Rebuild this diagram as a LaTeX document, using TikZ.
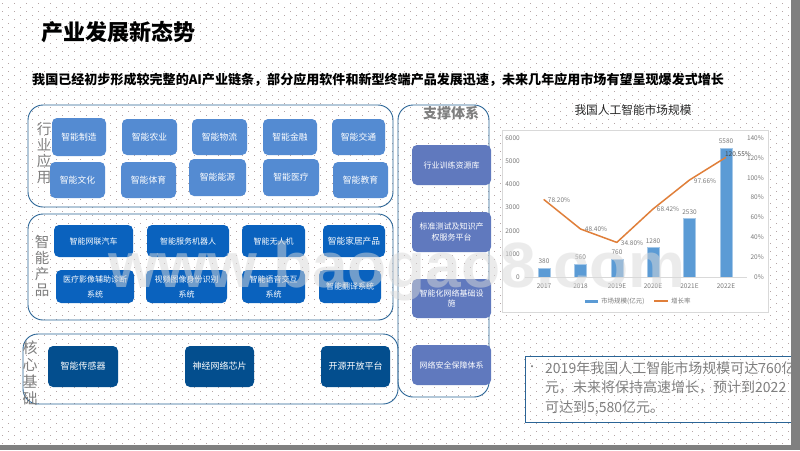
\documentclass[tikz,border=0pt]{standalone}
\usepackage{fontspec}
\setmainfont{Noto Sans CJK SC}
\newfontfamily\wmfont{Liberation Sans}
\newcommand{\fs}[2]{\fontsize{#1}{#2}\selectfont}
\definecolor{dotc}{HTML}{B5A5A5}
\definecolor{band}{HTML}{808080}
\definecolor{frameb}{HTML}{2A6496}
\definecolor{appb}{HTML}{548BD2}
\definecolor{prodb}{HTML}{0A62BE}
\definecolor{coreb}{HTML}{034E8E}
\definecolor{supb}{HTML}{6079BE}
\definecolor{sidetxt}{HTML}{7F7F7F}
\definecolor{barc}{HTML}{5B9BD5}
\definecolor{linec}{HTML}{E07F3A}
\definecolor{axt}{HTML}{7A7A7A}
\tikzset{
  x=1pt,y=-1pt,
  group/.style={draw=frameb,line width=0.9pt,rounded corners=15pt,fill=none},
  card/.style={rounded corners=5pt,text=white,align=center,inner sep=0pt,font=\fs{8.2}{10}},
  appcard/.style={card,fill=appb,font=\fs{8.8}{10}},
  prodcard/.style={card,fill=prodb,font=\fs{8}{15}},
  corecard/.style={card,fill=coreb,font=\fs{9}{11}},
  supcard/.style={card,fill=supb,font=\fs{8}{10.5}},
  side/.style={text=sidetxt,font=\fs{14.5}{16},inner sep=0pt,align=center},
  axis/.style={text=axt,font=\fs{6.5}{7},inner sep=0pt},
  bar/.style={fill=barc,draw=barc!55!white,line width=0.3pt},
  para/.style={text=sidetxt,font=\fs{14}{16},inner sep=0pt,anchor=west},
}
% name, style, x1, y1, x2, y2, text
\newcommand{\cardat}[7]{%
  \pgfmathsetmacro{\cw}{#5-#3}\pgfmathsetmacro{\ch}{#6-#4}%
  \pgfmathsetmacro{\cx}{(#5+#3)/2}\pgfmathsetmacro{\cy}{(#6+#4)/2}%
  \node[#2,minimum width=\cw pt,minimum height=\ch pt] (#1) at (\cx,\cy) {#7};}
\begin{document}
\begin{tikzpicture}
\useasboundingbox (0,0) rectangle (800,450);
\fill[white] (0,0) rectangle (800,450);
% dotted background
\foreach \r in {0,...,55}{
  \pgfmathsetmacro{\ry}{3+8*\r}
  \foreach \c in {0,...,66}{
    \pgfmathsetmacro{\rx}{2+12*\c}
    \fill[dotc] (\rx,\ry) rectangle ++(1,1);
    \fill[dotc] (\rx+6,\ry+4) rectangle ++(1,1);
  }
}
% title
\node[anchor=west,inner sep=0pt,font=\fs{22}{24}\bfseries] (title) at (41,32) {产业发展新态势};
\node[anchor=west,inner sep=0pt,font=\fs{13.05}{14}\bfseries] (sub) at (32,80) {我国已经初步形成较完整的AI产业链条，部分应用软件和新型终端产品发展迅速，未来几年应用市场有望呈现爆发式增长};
% groups
\draw[group] (28,105) rectangle (393,207);
\draw[group] (28,214) rectangle (393,320);
\draw[group] (23,334) rectangle (398,404);
\draw[group] (398,105) rectangle (489,397);
% side labels
\node[side] (hang) at (44,153) {行\\[0pt]业\\应\\用};
\node[side] (zhi) at (42,266) {智\\能\\产\\品};
\node[side,font=\fs{15}{16.8}] (he) at (30,373) {核\\心\\基\\础};
\node[text=sidetxt,font=\fs{14}{16}\bfseries,inner sep=0pt] (zc) at (451,113) {支撑体系};
% application
\cardat{a1}{appcard}{52}{118}{106}{156}{智能制造}
\cardat{a2}{appcard}{122}{119}{177}{155}{智能农业}
\cardat{a3}{appcard}{192}{119}{247}{155}{智能物流}
\cardat{a4}{appcard}{263}{119}{317}{155}{智能金融}
\cardat{a5}{appcard}{332}{119}{385}{155}{智能交通}
\cardat{a6}{appcard}{50}{162}{105}{198}{智能文化}
\cardat{a7}{appcard}{121}{162}{176}{198}{智能体育}
\cardat{a8}{appcard}{189}{159}{246}{196}{智能能源}
\cardat{a9}{appcard}{263}{159}{319}{196}{智能医疗}
\cardat{a10}{appcard}{333}{162}{388}{198}{智能教育}
% products
\cardat{p1}{prodcard}{54}{225}{133}{257}{智能网联汽车}
\cardat{p2}{prodcard}{147}{225}{229}{257}{智能服务机器人}
\cardat{p3}{prodcard}{242}{225}{305}{257}{智能无人机}
\cardat{p4}{prodcard,font=\fs{8.7}{15}}{323}{225}{385}{257}{智能家居产品}
\cardat{p5}{prodcard}{56}{270}{134}{303}{医疗影像辅助诊断\\系统}
\cardat{p6}{prodcard}{146}{270}{227}{303}{视频图像身份识别\\系统}
\cardat{p7}{prodcard}{242}{270}{305}{303}{智能语音交互\\系统}
\cardat{p8}{prodcard}{319}{270}{381}{303}{智能翻译系统}
% core
\cardat{c1}{corecard}{48}{346}{118}{387}{智能传感器}
\cardat{c2}{corecard}{185}{346}{254}{387}{神经网络芯片}
\cardat{c3}{corecard}{321}{346}{390}{387}{开源开放平台}
% support
\cardat{s1}{supcard}{412}{145}{491}{185}{行业训练资源库}
\cardat{s2}{supcard}{412}{212}{491}{252}{标准测试及知识产\\权服务平台}
\cardat{s3}{supcard}{412}{279}{491}{318}{智能化网络基础设\\施}
\cardat{s4}{supcard}{412}{345}{491}{385}{网络安全保障体系}
% chart
\node[inner sep=0pt,font=\fs{11.7}{13},text=black!85] (ct) at (633,110) {我国人工智能市场规模};
\draw[black!15,line width=0.8pt,fill=white] (502,130) rectangle (768,312);
\foreach \v/\y in {0/277,1000/254,2000/231,3000/207.5,4000/184.5,5000/161.5,6000/138.5}
  \node[axis,anchor=east] (yl\v) at (520,\y) {\v};
\foreach \v/\y in {0/277,20/257,40/237.5,60/217.5,80/197.5,100/178,120/158,140/138.5}
  \node[axis,anchor=east] (yr\v) at (764,\y) {\v\%};
\foreach \x/\t/\lab/\ly/\cat in {544/268.2/380/261/2017,580.5/264/560/257/2018,617/259.4/760/252/2019E,653/247.3/1280/241/2020E,689.5/218.4/2530/212/2021E,726/147.7/5580/141/2022E}{
  \fill[bar] (\x-6,\t) rectangle (\x+6,277);
  \node[axis] (v\lab) at (\x,\ly) {\lab};
  \node[axis] (cat\cat) at (\x,286) {\cat};
}
\draw[black!15,line width=0.6pt] (525,277) -- (747,277);
\draw[linec,line width=1.5pt,line join=round]
  (543.7,199.4) -- (580.5,229) -- (616.8,242.4) -- (653,209) -- (689.5,180) -- (726,157.3);
\foreach \n/\x/\y/\t in {a/559/200/78.20,b/596/229/48.40,c/632/243/34.80,d/668/209/68.42,e/705/181/97.66}
  \node[axis] (pct\n) at (\x,\y) {\t\%};
\node[axis,text=black!72] (pctf) at (738,154) {120.55\%};
% legend
\fill[barc] (585,299.5) rectangle (598,302.5);
\node[axis,anchor=west] (lg1) at (601,301) {市场规模(亿元)};
\draw[linec,line width=1.5pt] (654,301) -- (668,301);
\node[axis,anchor=west] (lg2) at (671,301) {增长率};
% text box
\draw[frameb,line width=0.9pt] (525,356) rectangle (800,422);
\node[text=sidetxt,font=\fs{10}{12},inner sep=0pt] (bul) at (532,368) {•};
\node[para] (t1) at (545,368) {2019年我国人工智能市场规模可达760亿};
\node[para] (t2) at (545,387) {元，未来将保持高速增长，预计到2022};
\node[para] (t3) at (545,408) {可达到5,580亿元。};
% frame band
\fill[band] (791,0) rectangle (800,450);
\fill[band] (0,445) rectangle (800,450);
% watermark
\node[anchor=base west,inner sep=0pt,text=black!15,text opacity=0.5,font={\wmfont\fs{64}{70}\bfseries}] (wm) at (108,287) {www.baogao8.com};
\end{tikzpicture}
\end{document}
